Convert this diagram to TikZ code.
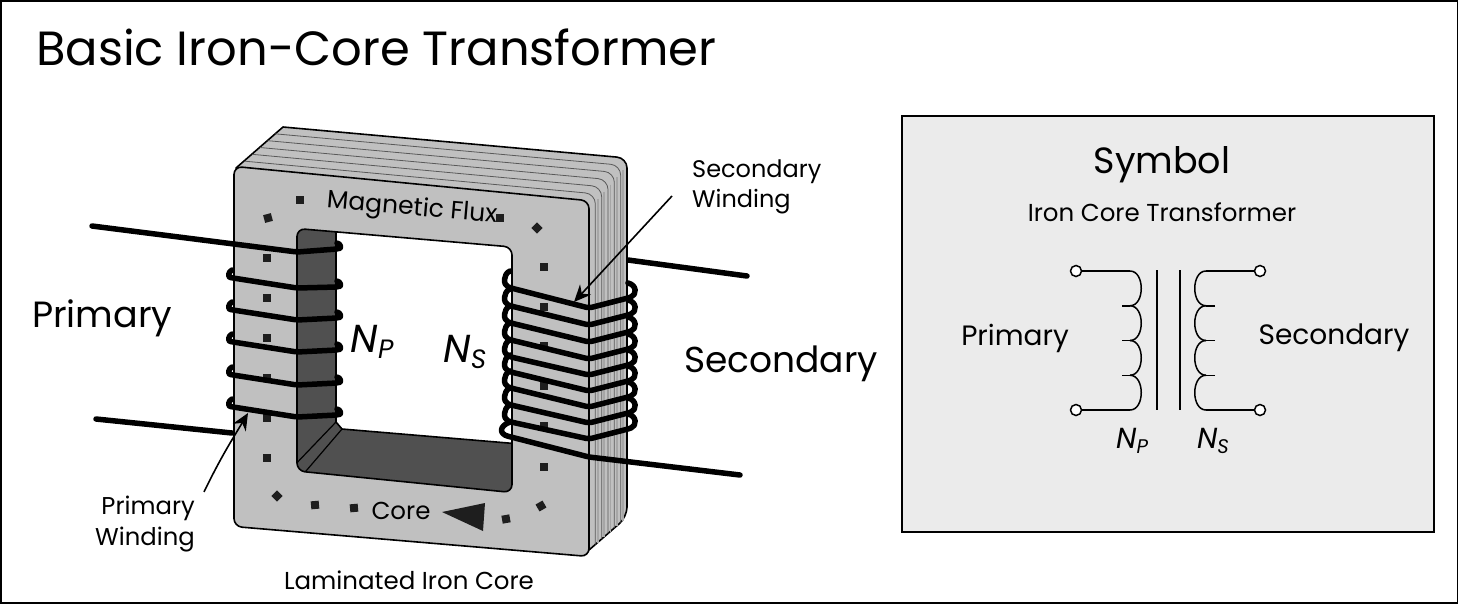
\documentclass[tikz,border=0pt]{standalone}
\usepackage{fontspec}
\setmainfont{Poppins}
\usetikzlibrary{arrows.meta}

\definecolor{coregrey}{HTML}{C0C0C0}
\definecolor{windowgrey}{HTML}{505050}
\definecolor{boxgrey}{HTML}{EBEBEB}
\definecolor{fluxdark}{HTML}{1E1E1E}

\newcommand{\turns}[2]{{\itshape #1\raisebox{-.28ex}{\scalebox{.68}{#2}}}}
\newcommand{\fs}[1]{\fontsize{#1}{#1}\selectfont}

\tikzset{
	txt/.style={inner sep=0pt,align=center},
	corelines/.style={draw=black,line width=1.6pt,line join=round},
	lamination/.style={draw=black!65,line width=.8pt,rounded corners=10},
	fluxsquare/.style={fill=fluxdark,inner sep=0pt,minimum size=8},
	winding/.style={line width=5.5pt,line cap=round,line join=round,rounded corners=3,black},
	pointer/.style={line width=1.6pt,-{Stealth[length=17pt,width=15pt]}},
	wire/.style={line width=1.5pt,black},
	terminal/.style={circle,draw,fill=white,line width=1.5pt,inner sep=0pt,minimum size=11}
}

\begin{document}
\begin{tikzpicture}[x=1pt,y=-1pt]
	\useasboundingbox (0,0) rectangle (1458,603);
	\fill[white] (0,0) rectangle (1458,603);

	\coordinate (primaryin) at (92,226);
	\coordinate (primaryout) at (96,419);
	\coordinate (secondaryin) at (747,276);
	\coordinate (secondaryout) at (740,475);
	\coordinate (primarytip) at (248,413);
	\coordinate (secondarytip) at (574,302);

	\draw[winding] (secondaryin) -- (628,260);
	\draw[winding] (primaryout) -- (232,433);

	\path[corelines,fill=coregrey] (236,168) -- (283,127) [rounded corners=10] -- (627,158) -- (627,517) [sharp corners] -- (589,550) -- (589,300) -- cycle;
	\foreach \i in {1,...,5} {
		\draw[lamination] ({237+46*\i/6},{168-41*\i/6}) -- ({589+38*\i/6},{201-43*\i/6}) -- ({589+38*\i/6},{550-33*\i/6});
		\draw[draw=black!35,line width=1.4pt] ({591.5+38*\i/6},{206-43*\i/6}) -- ({591.5+38*\i/6},{548-33*\i/6});
	}

	\path[corelines,fill=coregrey,rounded corners=8] (234,166.4) -- (589,200.7) -- (589,556.5) -- (234,526.5) -- cycle;

	\begin{scope}
		\clip[rounded corners=8] (297,228.5) -- (512,247) -- (512,492.5) -- (297,471) -- cycle;
		\fill[white] (280,210) rectangle (530,500);
		\fill[windowgrey] (290,220) -- (336,224) -- (336,422) -- (342,429) -- (520,444) -- (520,500) -- (290,480) -- cycle;
		\draw[corelines] (336,224) -- (336,422) -- (342,429) -- (520,444);
		\draw[line width=1.2pt] (336,422) -- (290,470);
		\draw[line width=1.2pt] (342,429) -- (300,478);
	\end{scope}
	\path[corelines,rounded corners=8] (297,228.5) -- (512,247) -- (512,492.5) -- (297,471) -- cycle;

	\foreach \x/\y/\r [count=\n] in {300/200/0,268/218/15,267/258/0,267/298/0,267/338/0,267/378/0,267/418/0,267/458/0,277/496/45,315/505/5,354/508/5,506/519/10,541/506/30,544/467/0,544/426/0,544/386/0,544/346/0,544/307/0,544/267/0,537/228/45,500/218/0} {
		\node[fluxsquare,rotate=\r] (flux\n) at (\x,\y) {};
	}
	\fill[fluxdark] (442,512) -- (485,503) -- (483,531) -- cycle;

	\draw[winding] (primaryin) -- (297,252) -- (337,249) .. controls (341,248) and (341,244) .. (337,243);
	\foreach \l/\m/\r in {278/288/287,310/320/318,342/352/350,375/385/383,407/417/415} {
		\draw[winding] (232,\l-8) .. controls (228,\l-6) and (228,\l-1) .. (233,\l) -- (297,\m) -- (337,\r) .. controls (341,\r-1) and (341,\r-5) .. (337,\r-6);
	}

	\foreach \l/\m in {288/308,306/325,323/342,340/359,357/375,372/391,388/407,405/423,422/439} {
		\draw[winding] (510,\l-17) .. controls (503,\l-14) and (503,\l-3) .. (511,\l) -- (589,\m) -- (628,\m-10) .. controls (637,\m-13) and (637,\m-23) .. (628,\m-25);
	}
	\draw[winding] (510,422) .. controls (499,426) and (499,434) .. (511,437) -- (589,457) -- (secondaryout);

	\node[txt,anchor=west] (title) at (36,47) {\fs{48}Basic Iron-Core Transformer};
	\node[txt,anchor=west] (primary) at (32,318) {\fs{36.5}Primary};
	\node[txt,anchor=west] (secondary) at (684,364) {\fs{36}Secondary};
	\node[txt] (np) at (372,342) {\fs{39}\turns{N}{P}};
	\node[txt] (ns) at (465,352) {\fs{39}\turns{N}{S}};
	\node[txt,rotate=-5] (flux) at (412,209) {\fs{25}Magnetic Flux};
	\node[txt] (core) at (401,511) {\fs{24.5}Core};
	\node[txt] (laminated) at (409,580) {\fs{24.5}Laminated Iron Core};
	\node[txt,align=right,anchor=east] (primarywinding) at (195,524) {\fs{24.3}Primary\\[5pt]\fs{24.3}Winding};
	\node[txt,align=left,anchor=west] (secondarywinding) at (692,187) {\fs{24}Secondary\\[5pt]\fs{24}Winding};

	\draw[pointer] (primarywinding.north east) ++(9,-4) coordinate (primarystart) .. controls (222,455) and (232,440) .. (primarytip);
	\draw[pointer] (secondarywinding.west) ++(-20,9) coordinate (secondarystart) -- (secondarytip);

	\path[draw=black,fill=boxgrey,line width=1.6pt] (902,116) rectangle (1434,532);
	\node[txt] (symbol) at (1162,165) {\fs{36.5}Symbol};
	\node[txt] (ironcore) at (1162,212) {\fs{24.5}Iron Core Transformer};
	\node[txt] (symprimary) at (1015,338) {\fs{28}Primary};
	\node[txt] (symsecondary) at (1334,338) {\fs{28}Secondary};
	\node[txt] (symnp) at (1132,441) {\fs{29}\turns{N}{P}};
	\node[txt] (symns) at (1213,441) {\fs{29}\turns{N}{S}};

	\node[terminal] (pa) at (1076,271) {};
	\node[terminal] (pb) at (1076,410) {};
	\node[terminal] (sa) at (1260,271) {};
	\node[terminal] (sb) at (1260,410) {};

	\draw[wire] (pa) -- (1130,271);
	\draw[wire] (pb) -- (1130,410);
	\draw[wire] (sa) -- (1206,271);
	\draw[wire] (sb) -- (1206,410);
	\foreach \y in {271,305.75,340.5,375.25} {
		\draw[wire] (1130,\y) .. controls (1145,\y) and (1145,\y+34.75) .. (1130,\y+34.75);
		\draw[wire] (1206,\y) .. controls (1191,\y) and (1191,\y+34.75) .. (1206,\y+34.75);
	}
	\foreach \y in {305.75,340.5,375.25} {
		\draw[wire] (1122,\y) -- (1130,\y);
		\draw[wire] (1215,\y) -- (1206,\y);
	}
	\draw[wire] (1157,270) -- (1157,410);
	\draw[wire] (1180,270) -- (1180,410);

	\draw[line width=3pt] (0,0) rectangle (1458,603);
\end{tikzpicture}
\end{document}
